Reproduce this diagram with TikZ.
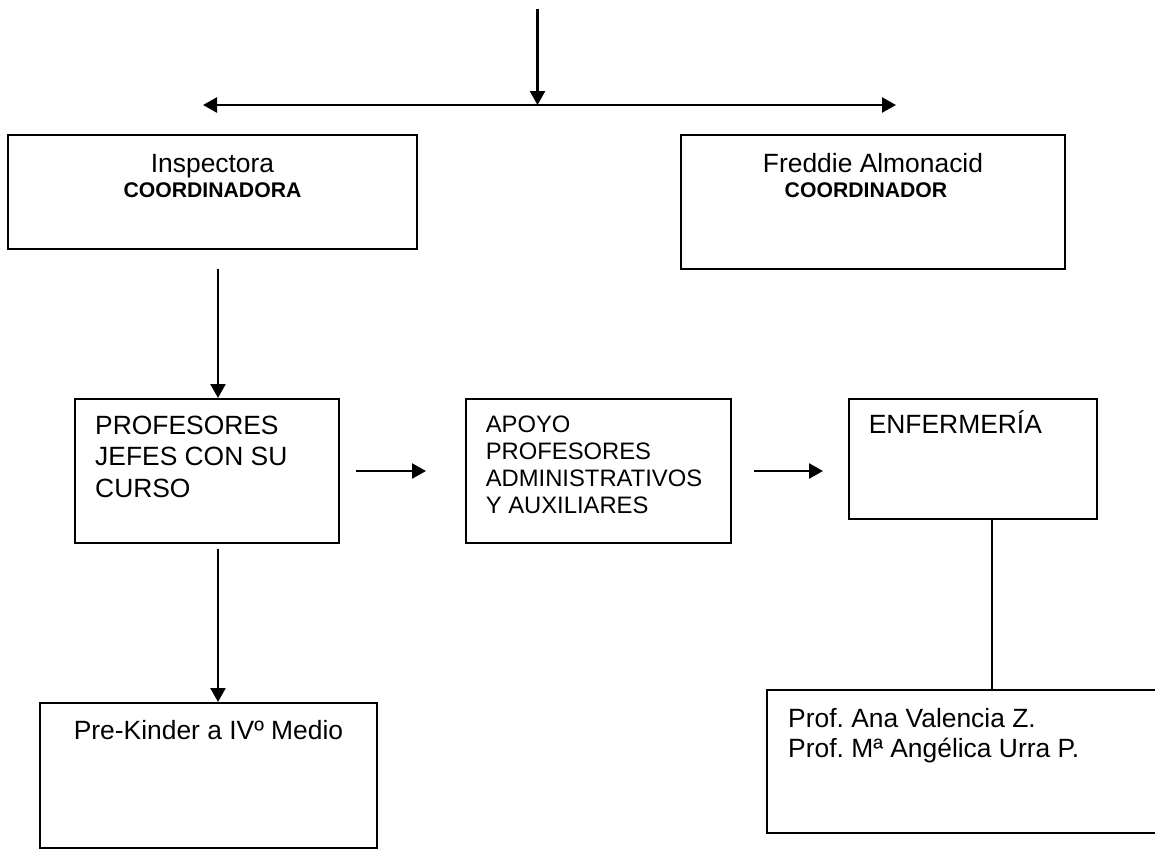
\documentclass[tikz,border=0pt]{standalone}
\usepackage{fontspec}
\setmainfont{Liberation Sans}
\usetikzlibrary{arrows.meta}
\begin{document}
\frenchspacing
\begin{tikzpicture}[x=1pt,y=-1pt]
      \newcommand{\gap}[0]{\hspace{0.28em}}

      \tikzstyle{box}=[
        draw,
        rectangle,
        line width=2pt,
        inner sep=0pt,
        anchor=center
      ]
      \tikzstyle{txt}=[inner sep=0pt, align=left, font=\fontsize{26.4}{31.5}\selectfont]
      \tikzstyle{small}=[inner sep=0pt, align=left, font=\fontsize{23.8}{26.7}\selectfont]
      \tikzstyle{head}=[inner sep=0pt, font=\fontsize{21.2}{25}\selectfont\bfseries]
      \tikzstyle{arrow} = [line width=2.5pt, -{Triangle[length=14pt,width=15pt]}, draw=black]
      \tikzstyle{twoway} = [line width=2.5pt, {Triangle[length=14pt,width=15pt]}-{Triangle[length=14pt,width=15pt]}, draw=black]
      \tikzstyle{line} = [line width=2.5pt, draw=black]

      \useasboundingbox (0,0) rectangle (1155,849);

      \node[box, minimum width=409pt, minimum height=114pt] (insp)   at (212.5, 192)   {};
      \node[box, minimum width=384pt, minimum height=134pt] (fred)   at (873  , 202)   {};
      \node[box, minimum width=264pt, minimum height=144pt] (prof)   at (207  , 471)   {};
      \node[box, minimum width=265pt, minimum height=144pt] (apoyo)  at (598.5, 471)   {};
      \node[box, minimum width=248pt, minimum height=120pt] (enf)    at (973  , 459)   {};
      \node[box, minimum width=337pt, minimum height=145pt] (kinder) at (208.5, 775.5) {};
      \node[box, minimum width=391pt, minimum height=143pt] (nurses) at (962.5, 761.5) {};

      \node[txt, anchor=base]       (insptop)  at (212.5, 172) {Inspectora};
      \node[head, anchor=base]      (inspsub)  at (212.5, 197) {COORDINADORA};
      \node[txt, anchor=base]       (fredtop)  at (873  , 172) {Freddie Almonacid};
      \node[head, anchor=base]      (fredsub)  at (866  , 197) {COORDINADOR};
      \node[txt, anchor=base west]  (proftxt)  at (95   , 497) {PROFESORES\\JEFES CON SU\\CURSO};
      \node[small, anchor=base west](apoyotxt) at (485.6, 513) {APOYO\\PROFESORES\\ADMINISTRATIVOS\\Y AUXILIARES};
      \node[txt, anchor=base west]  (enftxt)   at (868.6, 433) {ENFERMERÍA};
      \node[txt, anchor=base]       (kindtxt)  at (208.5, 739) {Pre-Kinder a IVº Medio};
      \node[txt, anchor=base west]  (nurse1)   at (788  , 727) {Prof.\gap Ana Valencia Z.};
      \node[txt, anchor=base west]  (nurse2)   at (788  , 757) {Prof. Mª Angélica Urra P.};

      \coordinate (top)      at (537.5, 9);
      \coordinate (split)    at (537.5, 105);
      \coordinate (leftend)  at (203  , 105);
      \coordinate (rightend) at (896  , 105);
      \coordinate (inspout)  at (218  , 269);
      \coordinate (profout)  at (218  , 549);
      \coordinate (enfout)   at (992  , 519);

      \draw[arrow] (top) -- (split);
      \draw[twoway] (leftend) -- (rightend);
      \draw[arrow] (inspout) -- (inspout |- prof.north);
      \draw[arrow, shorten <=16pt, shorten >=39pt] (prof.east) -- (apoyo.west);
      \draw[arrow, shorten <=22pt, shorten >=25pt] (apoyo.east) -- (apoyo.east -| enf.west);
      \draw[arrow] (profout) -- (profout |- kinder.north);
      \draw[line] (enfout) -- (enfout |- nurses.north);
    \end{tikzpicture}
\end{document}
